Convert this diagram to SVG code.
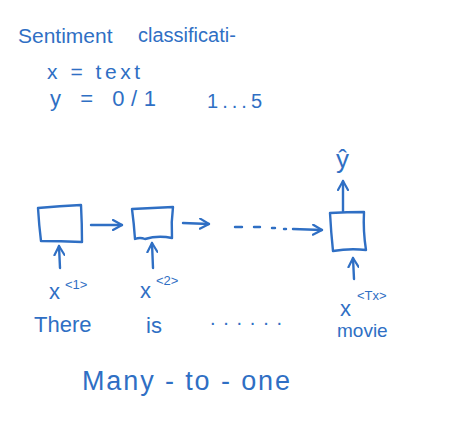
<svg xmlns="http://www.w3.org/2000/svg" width="457" height="427" viewBox="0 0 457 427">
<defs>
<style>
.ink{fill:none;stroke:#2f6fc4;stroke-width:2.4;stroke-linecap:round;stroke-linejoin:round}
.t{fill:#2f6fc4;font-family:"Liberation Sans",Arial,sans-serif}
</style>
<marker id="ah" viewBox="0 0 12 12" refX="10" refY="6" markerWidth="12" markerHeight="12" markerUnits="userSpaceOnUse" orient="auto">
<path d="M1,1 L10,6 L1,11" fill="none" stroke="#2f6fc4" stroke-width="2.2" stroke-linecap="round" stroke-linejoin="round"/>
</marker>
</defs>
<rect width="457" height="427" fill="#ffffff"/>
<g id="header">
<text class="t" x="18" y="43" font-size="21">Sentiment</text>
<text class="t" x="138" y="42" font-size="20">classificati-</text>
<text class="t" x="47" y="79" font-size="21" textLength="93">x = text</text>
<text class="t" x="50" y="106" font-size="22" textLength="106">y = 0/1</text>
<text class="t" x="207" y="108" font-size="20" textLength="55">1...5</text>
</g>
<g id="connectors">
<path class="ink" d="M91,225 L122,225" marker-end="url(#ah)"/>
<path class="ink" d="M183,223 L209,224" marker-end="url(#ah)"/>
<path class="ink" d="M235,227 L242,227 M254,227 L260,227 M272,228 L275,228 M284,229 L286,229"/>
<path class="ink" d="M293,229 L322,230" marker-end="url(#ah)"/>
<path class="ink" d="M60,268 L59,246" marker-end="url(#ah)"/>
<path class="ink" d="M153,268 L152,243" marker-end="url(#ah)"/>
<path class="ink" d="M354,279 L353,258" marker-end="url(#ah)"/>
<path class="ink" d="M343,211 L343,181" marker-end="url(#ah)"/>
</g>
<g id="node1">
<path class="ink" d="M38,208 Q60,206 81,205 Q82,224 82,242 Q60,241 41,241 Q39,225 38,208 Z"/>
</g>
<g id="node2">
<path class="ink" d="M132,209 Q153,208 173,207 Q171,222 172,238 Q158,235 145,239 Q140,237 135,239 Q134,224 132,209 Z"/>
</g>
<g id="node3">
<path class="ink" d="M330,213 Q347,212 364,212 Q363,231 366,250 Q350,248 333,251 Q331,232 330,213 Z"/>
</g>
<g id="output">
<text class="t" x="336" y="168" font-size="26">ŷ</text>
</g>
<g id="inputs">
<text class="t" x="49" y="299" font-size="22">x</text>
<text class="t" x="65" y="289" font-size="13">&lt;1&gt;</text>
<text class="t" x="140" y="298" font-size="22">x</text>
<text class="t" x="156" y="285" font-size="13">&lt;2&gt;</text>
<text class="t" x="340" y="316" font-size="22">x</text>
<text class="t" x="357" y="300" font-size="13">&lt;Tx&gt;</text>
<text class="t" x="34" y="332" font-size="22">There</text>
<text class="t" x="146" y="333" font-size="22">is</text>
<text class="t" x="210" y="325" font-size="20" textLength="78" letter-spacing="6">......</text>
<text class="t" x="337" y="337" font-size="19">movie</text>
</g>
<g id="footer">
<text class="t" x="82" y="390" font-size="27" textLength="208">Many - to - one</text>
</g>
</svg>
